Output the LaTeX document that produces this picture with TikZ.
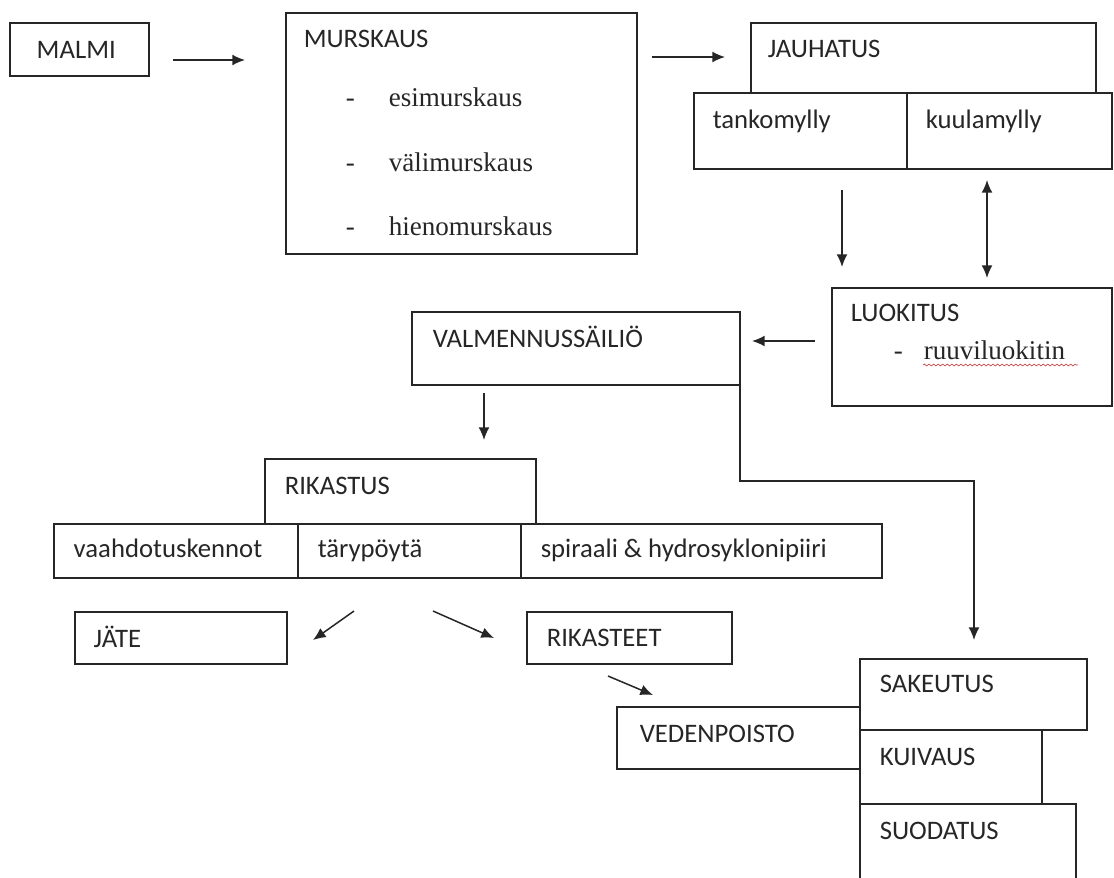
\documentclass[tikz,border=0pt]{standalone}
\usepackage{fontspec}
\setmainfont{Liberation Serif}
\newfontfamily\calfont{Carlito}
\usepackage{tikz}
\usetikzlibrary{arrows.meta,decorations.pathmorphing}

\newcommand{\px}{0.02cm}

\begin{document}
\begin{tikzpicture}[
		%Global config
		>={Latex[length=7.2pt,width=6.2pt]},
		x=\px, y=-\px,
		line width=0.85pt,
		color=black!85,
		%Styles
		box/.style={
			draw,
			anchor=north west,
			inner sep=0pt,
			outer sep=0pt,
		},
		sz/.style 2 args={
			minimum width=#1*\px,
			minimum height=#2*\px
		},
		lbl/.style={
			anchor=base west,
			inner sep=0pt,
			font=\calfont\fontsize{15.2}{17}\selectfont
		},
		sub/.style={
			anchor=base west,
			inner sep=0pt,
			font=\fontsize{15.4}{18}\selectfont
		},
		arr/.style={
			->,
			line width=0.85pt
		},
		wavy/.style={
			color={rgb,255:red,205;green,70;blue,70},
			line width=0.4pt,
			decorate,
			decoration={snake, amplitude=0.5pt, segment length=2.6pt}
		}
		]
		\useasboundingbox (0,0) rectangle (1114,877);

		% boxes
		\node[box, sz={139}{53}] (malmi) at (10,23) {};
		\node[box, sz={351}{241}] (murskaus) at (286,13) {};
		\node[box, sz={345}{70}] (jauhatus) at (751,23) {};
		\node[box, sz={213}{76}] (tanko) at (694,93) {};
		\node[box, sz={205}{76}] (kuula) at (907,93) {};
		\node[box, sz={280}{118}] (luokitus) at (832,288) {};
		\node[box, sz={328}{73}] (valm) at (412,312) {};
		\node[box, sz={271}{65}] (rikastus) at (265,459) {};
		\node[box, sz={244}{54}] (vaahto) at (54,524) {};
		\node[box, sz={223}{54}] (tary) at (298,524) {};
		\node[box, sz={361}{54}] (spiraali) at (521,524) {};
		\node[box, sz={212}{52}] (jate) at (75,612) {};
		\node[box, sz={205}{52}] (rikasteet) at (527,612) {};
		\node[box, sz={243}{62}] (veden) at (617,707) {};
		\node[box, sz={227}{71}] (sakeutus) at (860,659) {};
		\node[box, sz={182}{74}] (kuivaus) at (860,730) {};
		\node[box, sz={216}{100}] (suodatus) at (860,804) {};

		% texts
		\node[lbl] (tMalmi) at (36,58) {MALMI};
		\node[lbl] (tMurskaus) at (303,47) {MURSKAUS};
		\node[sub] (d1) at (345,106) {-};
		\node[sub] (d2) at (345,171) {-};
		\node[sub] (d3) at (345,235) {-};
		\node[sub] (tEsi) at (388,106) {esimurskaus};
		\node[sub] (tVali) at (388,171) {välimurskaus};
		\node[sub] (tHieno) at (388,235) {hienomurskaus};
		\node[lbl] (tJauhatus) at (767,57) {JAUHATUS};
		\node[lbl] (tTanko) at (712,128) {tankomylly};
		\node[lbl] (tKuula) at (925,128) {kuulamylly};
		\node[lbl] (tLuokitus) at (850,321) {LUOKITUS};
		\node[sub] (d4) at (893,359) {-};
		\node[sub] (tRuuvi) at (923,359) {ruuviluokitin};
		\node[lbl] (tValm) at (432,347) {VALMENNUSSÄILIÖ};
		\node[lbl] (tRikastus) at (284,494) {RIKASTUS};
		\node[lbl] (tVaahto) at (73,557) {vaahdotuskennot};
		\node[lbl] (tTary) at (317,557) {tärypöytä};
		\node[lbl] (tSpiraali) at (540,557) {spiraali \& hydrosyklonipiiri};
		\node[lbl] (tJate) at (93,647) {JÄTE};
		\node[lbl] (tRikasteet) at (546,646) {RIKASTEET};
		\node[lbl] (tVeden) at (639,742) {VEDENPOISTO};
		\node[lbl] (tSakeutus) at (879,692) {SAKEUTUS};
		\node[lbl] (tKuivaus) at (879,765) {KUIVAUS};
		\node[lbl] (tSuodatus) at (879,839) {SUODATUS};

		% arrow ends
		\coordinate (m1) at (173,60);
		\coordinate (m2) at (245,60);
		\coordinate (j1) at (652,57);
		\coordinate (j2) at (725,57);
		\coordinate (t1) at (842,190);
		\coordinate (t2) at (842,267);
		\coordinate (k1) at (987,180);
		\coordinate (k2) at (987,278);
		\coordinate (l1) at (815,341);
		\coordinate (l2) at (752,341);
		\coordinate (v1) at (484,393);
		\coordinate (v2) at (484,440);
		\coordinate (bend) at (974,481);
		\coordinate (s2) at (974,640);
		\coordinate (r1) at (354,611);
		\coordinate (r2) at (313,640);
		\coordinate (r3) at (433,611);
		\coordinate (r4) at (494,638);
		\coordinate (e1) at (608,676);
		\coordinate (e2) at (653,695);
		\coordinate (w1) at (923,365);
		\coordinate (w2) at (1078,365);

		% arrows
		\draw[arr] (m1) -- (m2);
		\draw[arr] (j1) -- (j2);
		\draw[arr] (t1) -- (t2);
		\draw[arr, <->] (k1) -- (k2);
		\draw[arr] (l1) -- (l2);
		\draw[arr] (v1) -- (v2);
		\draw[arr] (valm.south east) |- (bend) -- (s2);
		\draw[arr] (r1) -- (r2);
		\draw[arr] (r3) -- (r4);
		\draw[arr] (e1) -- (e2);
		\draw[wavy] (w1) -- (w2);
	\end{tikzpicture}
\end{document}
